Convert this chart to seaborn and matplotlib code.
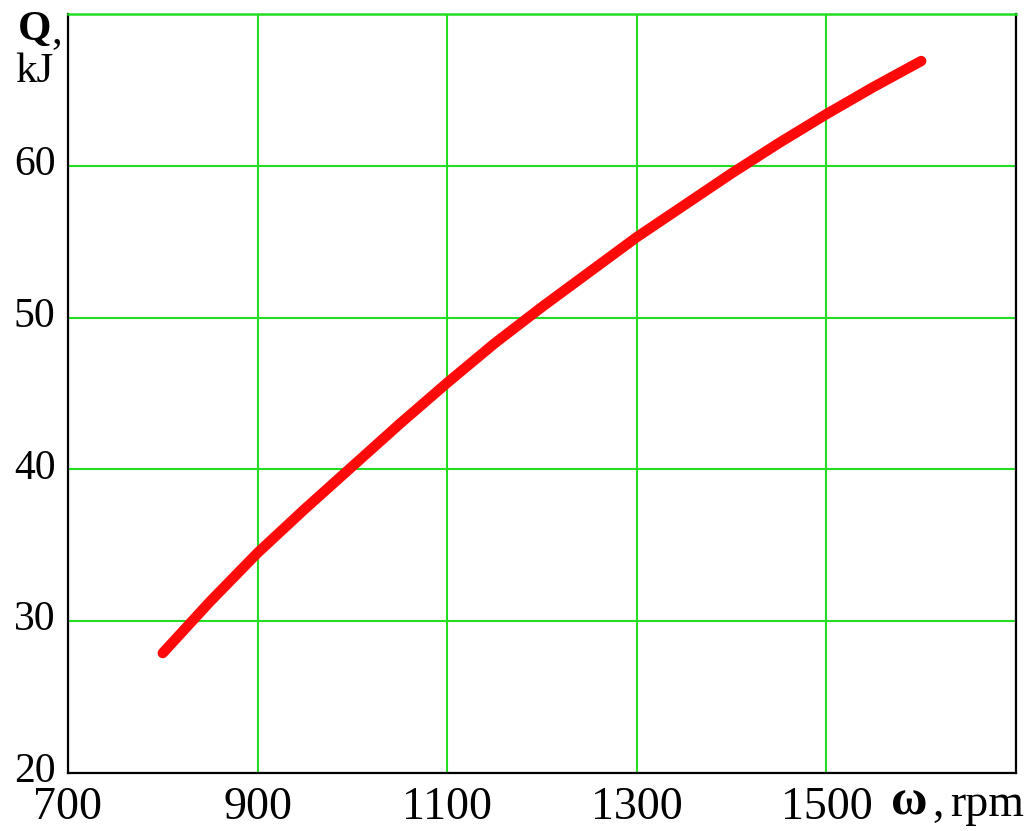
import matplotlib
matplotlib.use("Agg")
import matplotlib.pyplot as plt
import matplotlib.transforms as mtransforms
import seaborn as sns
import pandas as pd

# engine speed (rpm) and heat Q (kJ)
omega = [800, 850, 900, 950, 1000, 1050, 1100, 1150, 1200,
         1250, 1300, 1350, 1400, 1450, 1500, 1550, 1600]
q_kj = [27.9, 31.3, 34.5, 37.4, 40.2, 43.0, 45.7, 48.3, 50.7,
        53.0, 55.3, 57.4, 59.5, 61.5, 63.4, 65.2, 66.9]

x_ticks = [700, 900, 1100, 1300, 1500, 1700]
x_labels = ["700", "900", "1100", "1300", "1500", ""]
y_ticks = [20, 30, 40, 50, 60, 70]
y_labels = ["20", "30", "40", "50", "60", ""]

df = pd.DataFrame({"omega": omega, "Q": q_kj})

sns.set_style("white")
plt.rcParams["font.family"] = ["Liberation Serif", "DejaVu Serif"]
plt.rcParams["text.color"] = "black"
plt.rcParams["xtick.color"] = "black"
plt.rcParams["ytick.color"] = "black"

fig = plt.figure(figsize=(10.36, 8.31), dpi=100)
ax = fig.add_axes([0.0656, 0.0698, 0.9151, 0.9134])

grid_green = "#22dd22"

sns.lineplot(data=df, x="omega", y="Q", color="#ff0a0a", lw=7.5,
             solid_capstyle="round", ax=ax, zorder=3)

ax.set_xlim(700, 1700)
ax.set_ylim(20, 70)
ax.set_xticks(x_ticks)
ax.set_xticklabels(x_labels, fontsize=33)
ax.set_yticks(y_ticks)
ax.set_yticklabels(y_labels, fontsize=30)
ax.tick_params(axis="x", length=0, pad=10)
ax.tick_params(axis="y", length=0, pad=9)
ax.grid(True, color=grid_green, lw=1.5)
ax.set_axisbelow(True)

# y tick labels sit a little above their grid lines in the reference
shift_up = mtransforms.ScaledTranslation(0, 4 / 72, fig.dpi_scale_trans)
for lab in ax.get_yticklabels():
    lab.set_transform(lab.get_transform() + shift_up)

for side in ["left", "bottom", "right"]:
    ax.spines[side].set_color("black")
    ax.spines[side].set_linewidth(1.6)
ax.spines["top"].set_color(grid_green)
ax.spines["top"].set_linewidth(1.8)

ax.set_xlabel("")
ax.set_ylabel("")

# axis captions in the corners
fig.text(0.033, 0.964, "Q", fontsize=31, fontweight="bold", ha="center", va="center")
fig.text(0.050, 0.962, ",", fontsize=31, ha="left", va="center")
fig.text(0.033, 0.914, "kJ", fontsize=31, ha="center", va="center")
fig.text(0.878, 0.034, "\u03c9", fontsize=36, fontweight="bold", ha="center", va="center")
fig.text(0.900, 0.032, ",", fontsize=33, ha="left", va="center")
fig.text(0.917, 0.032, "rpm", fontsize=33, ha="left", va="center")

fig.savefig("out.png", dpi=100)
